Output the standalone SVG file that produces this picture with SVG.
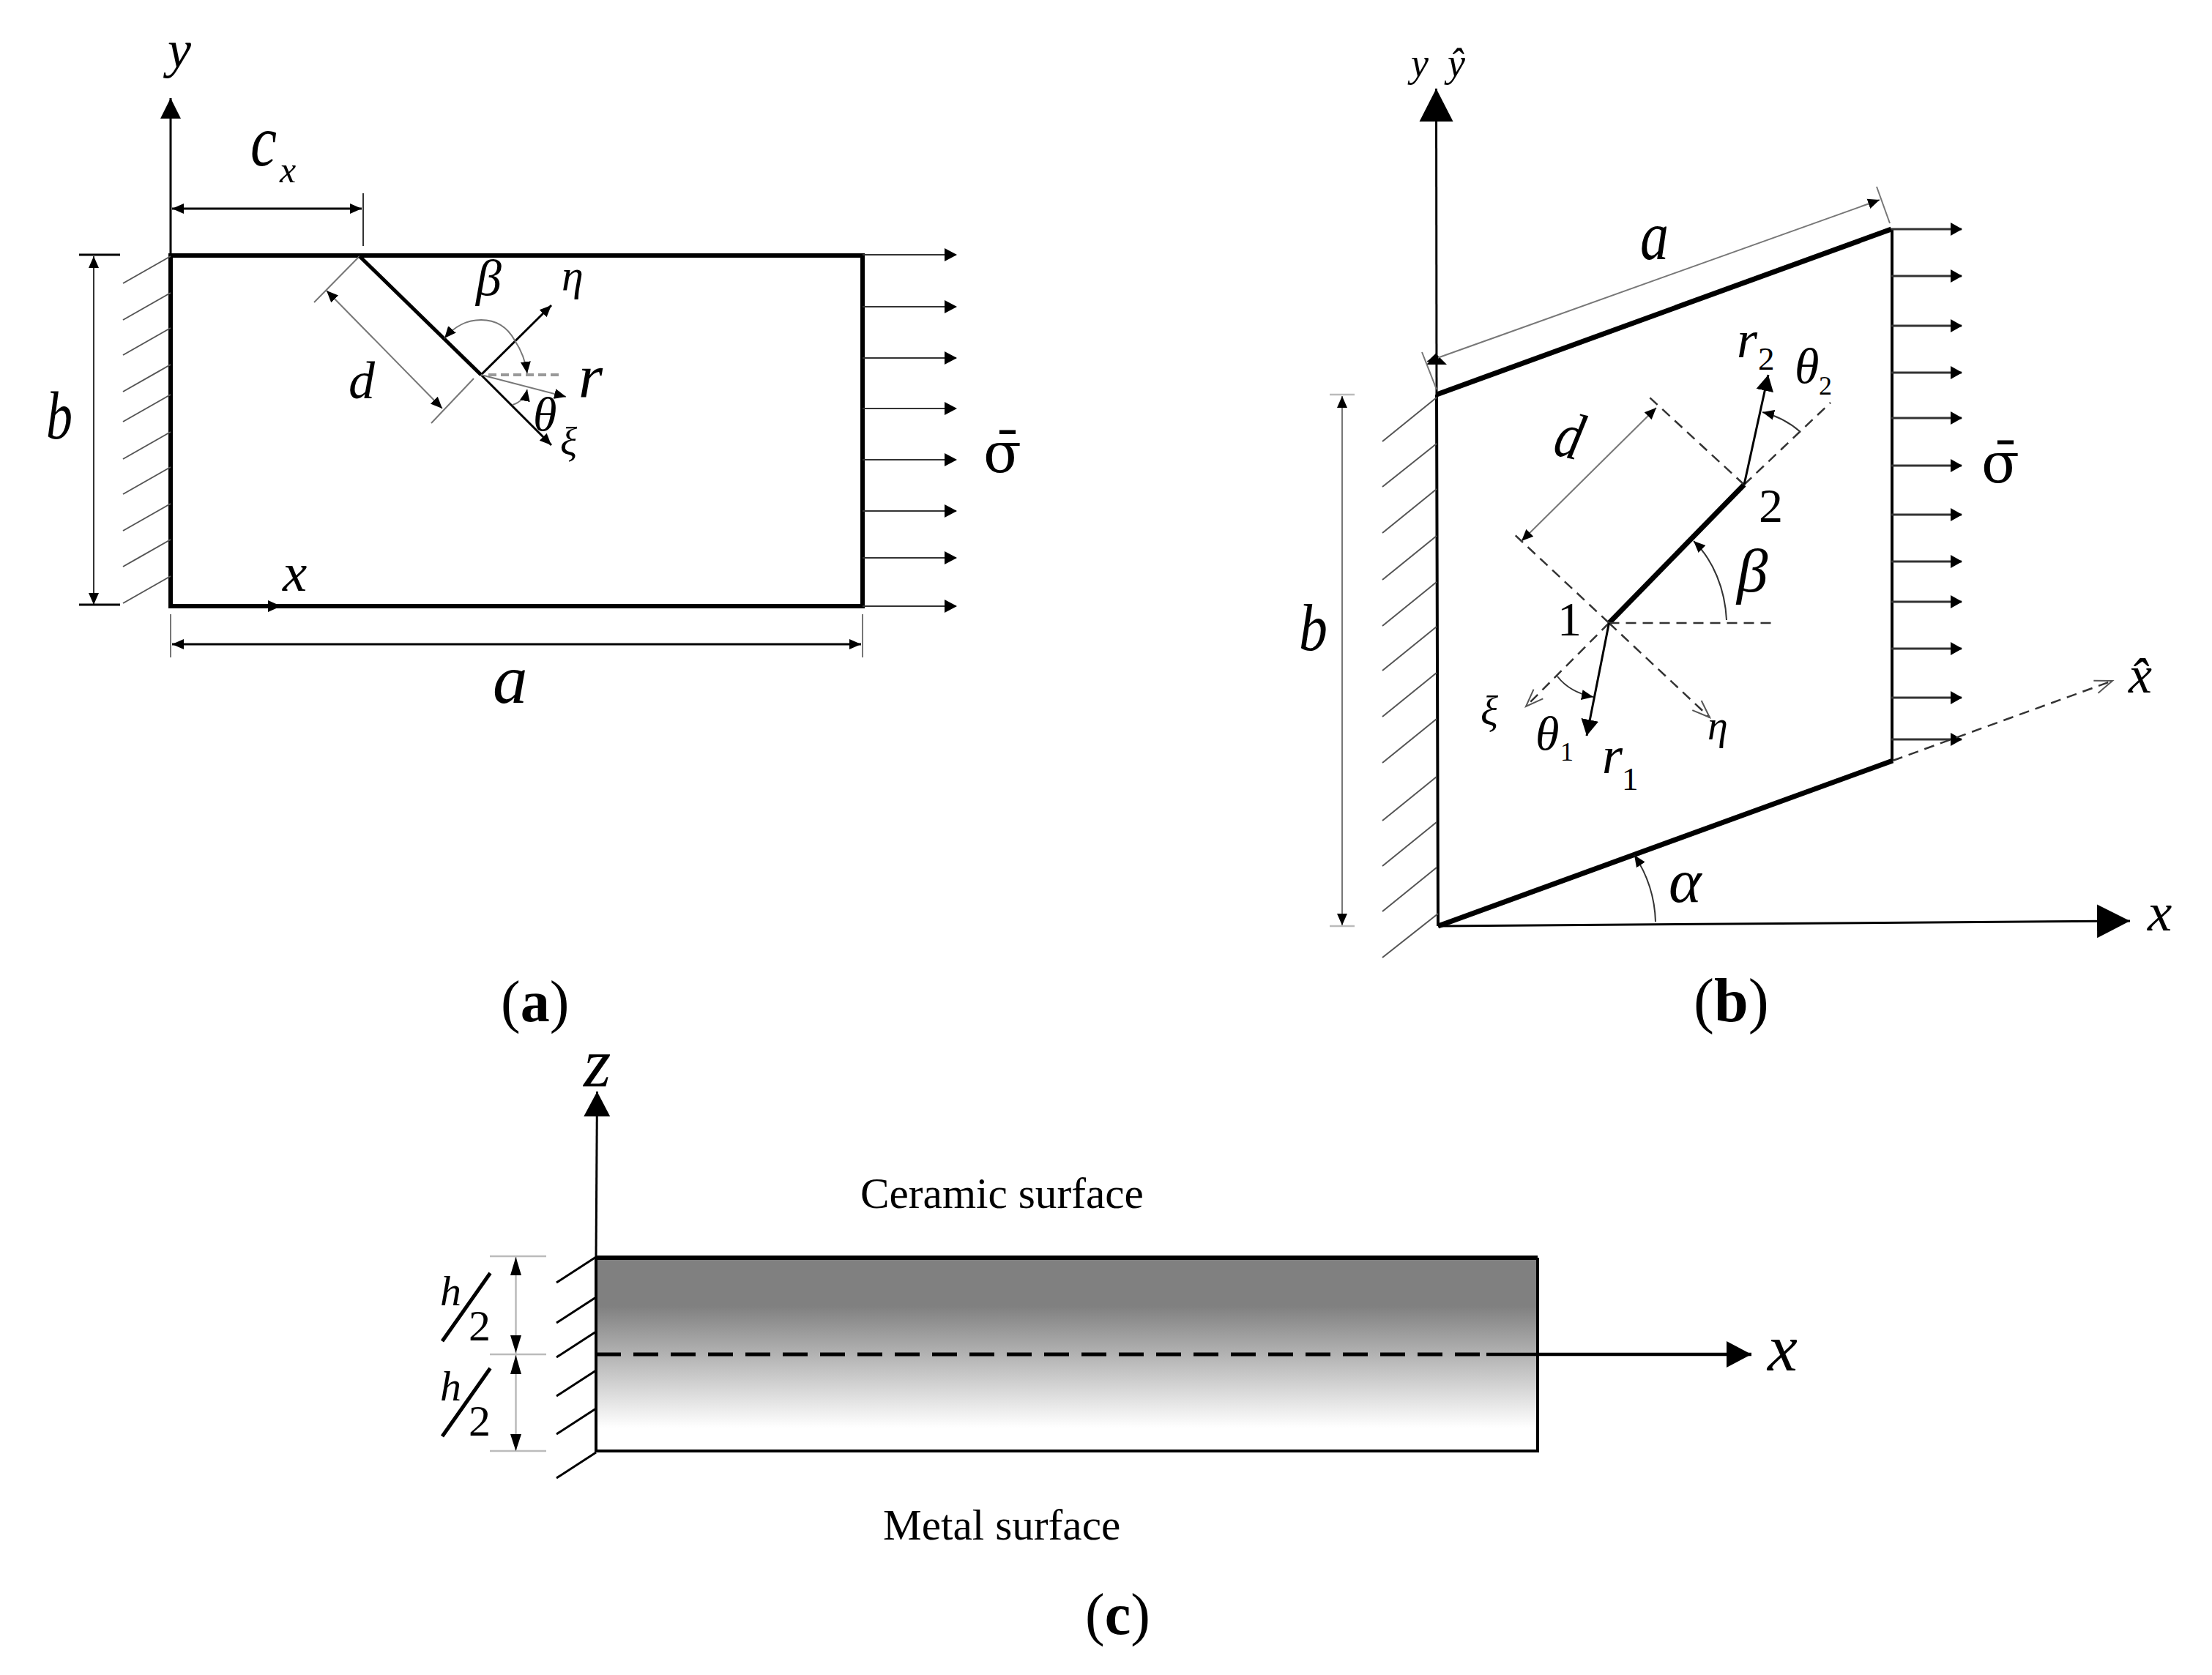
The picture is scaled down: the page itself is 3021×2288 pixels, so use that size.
<svg xmlns="http://www.w3.org/2000/svg" width="3021" height="2288" viewBox="0 0 3021 2288">
<style>
text{font-family:"Liberation Serif","Times New Roman",serif;fill:#000}
.i{font-style:italic}
.b{font-weight:bold}
.sg{font-family:"DejaVu Serif",serif}
.l{fill:none;stroke:#000;stroke-width:3}
.t{fill:none;stroke:#333;stroke-width:2}
.f{fill:none;stroke:#777;stroke-width:2}
.k{fill:none;stroke:#000;stroke-width:5}
.kk{fill:none;stroke:#000;stroke-width:7}
.h{fill:none;stroke:#555;stroke-width:2}
.d{fill:none;stroke:#333;stroke-width:2.5;stroke-dasharray:14 9}
.g{fill:none;stroke:#bbb;stroke-width:2.5}
.as{marker-end:url(#s)}
.ar{marker-end:url(#r)}
.ax{marker-end:url(#x);marker-start:url(#x)}
.ae{marker-end:url(#x)}
.ao{marker-end:url(#o)}
</style>
<defs>
<marker id="s" markerUnits="userSpaceOnUse" markerWidth="20" markerHeight="20" refX="18" refY="10" orient="auto"><path d="M0 2L18 10L0 18z"/></marker>
<marker id="r" markerUnits="userSpaceOnUse" markerWidth="24" markerHeight="26" refX="22" refY="13" orient="auto"><path d="M0 1L22 13L0 25z"/></marker>
<marker id="x" markerUnits="userSpaceOnUse" markerWidth="18" markerHeight="16" refX="16" refY="8" orient="auto-start-reverse"><path d="M0 1L16 8L0 15z"/></marker>
<marker id="o" markerUnits="userSpaceOnUse" markerWidth="30" markerHeight="30" refX="26" refY="15" orient="auto"><path d="M2 6L26 15L2 24" fill="none" stroke="#555" stroke-width="2"/></marker>
<marker id="m" markerUnits="userSpaceOnUse" markerWidth="30" markerHeight="32" refX="28" refY="16" orient="auto"><path d="M0 2L28 16L0 30z"/></marker>
<marker id="L" markerUnits="userSpaceOnUse" markerWidth="46" markerHeight="48" refX="45" refY="24" orient="auto"><path d="M0 1L45 24L0 47z"/></marker>
<marker id="c" markerUnits="userSpaceOnUse" markerWidth="36" markerHeight="38" refX="34" refY="19" orient="auto"><path d="M0 1L34 19L0 37z"/></marker>
<linearGradient id="fgm" x1="0" y1="0" x2="0" y2="1">
<stop offset="0" stop-color="#808080"/><stop offset=".25" stop-color="#808080"/><stop offset=".88" stop-color="#fff"/><stop offset="1" stop-color="#fff"/>
</linearGradient>
</defs>

<g id="panel-a">
<g id="a-plate"><rect x="233" y="349" width="945" height="479" fill="#fff" stroke="#000" stroke-width="6"/></g>
<g id="a-connectors">
<path class="l" d="M233 349V134" marker-end="url(#m)"/>
<path class="l ax" d="M235 285H494"/>
<path class="t" d="M496 264V336"/>
<path class="l as" d="M233 828H384"/>
<path class="l ax" d="M235 880H1176"/>
<path class="f" d="M233 839V898M1178 839V898"/>
<path class="t ax" d="M128 350V826"/>
<path class="l" d="M108 348H164M108 826H164"/>
<path class="h" d="M233 350L168 387M233 400L168 437M233 448L168 485M233 498L168 535M233 539L168 576M233 590L168 627M233 638L168 675M233 688L168 725M233 737L168 774M233 787L168 824"/>
<path class="t" d="M1178 348H1306M1178 419H1306M1178 489H1306M1178 558H1306M1178 628H1306M1178 698H1306M1178 762H1306M1178 828H1306"/>
<path d="M1290 339L1307 348L1290 357zM1290 410L1307 419L1290 428zM1290 480L1307 489L1290 498zM1290 549L1307 558L1290 567zM1290 619L1307 628L1290 637zM1290 689L1307 698L1290 707zM1290 753L1307 762L1290 771zM1290 819L1307 828L1290 837z"/>
<path class="f" d="M491 350L429 413M647 517L589 578"/>
<path class="f ax" d="M446 397L604 558"/>
<path class="k" d="M491 350L657 512"/>
<path class="l ae" d="M657 512L753 608"/>
<path class="l ae" d="M657 512L753 417"/>
<path fill="none" stroke="#999" stroke-width="4" stroke-dasharray="11 6" d="M667 512H763"/>
<path class="f ae" d="M657 512L773 542"/>
<path class="f ae" d="M703 465C692 445 675 437 657 437C635 437 620 447 607 462"/>
<path class="f ae" d="M703 465C713 480 718 495 720 510"/>
<path class="f ae" d="M700 553C710 550 718 542 720 532"/>
</g>
<g id="a-labels">
<text class="i" x="229" y="92" font-size="72">y</text>
<text class="i" x="342" y="226" font-size="100" textLength="36" lengthAdjust="spacingAndGlyphs">c</text>
<text class="i" x="382" y="249" font-size="50">x</text>
<text class="i" x="63" y="599" font-size="94" textLength="36" lengthAdjust="spacingAndGlyphs">b</text>
<text class="i" x="476" y="544" font-size="72">d</text>
<text class="i" x="650" y="403" font-size="70">β</text>
<text class="i" x="767" y="396" font-size="60">η</text>
<text class="i" x="790" y="543" font-size="85">r</text>
<text class="i" x="728" y="588" font-size="66">θ</text>
<text class="i" x="765" y="622" font-size="54">ξ</text>
<text class="i" x="386" y="807" font-size="75">x</text>
<text class="i" x="673" y="960" font-size="95">a</text>
<text class="sg" x="1343" y="645" font-size="76">σ̄</text>
<text x="684" y="1395" font-size="80">(<tspan class="b">a</tspan>)</text>
</g>
</g>

<g id="panel-b">
<g id="b-plate"><path fill="#fff" stroke="none" d="M1962 539L2583 313V1039L1964 1265z"/>
<path class="kk" d="M1962 539L2583 313"/><path class="kk" d="M1964 1265L2585 1039"/>
<path fill="none" stroke="#000" stroke-width="4" d="M1962 539L1964 1265M2584 313V1039"/></g>
<g id="b-connectors">
<path class="l" d="M1962 539L1961.5 121" marker-end="url(#L)"/>
<path class="l" d="M1964 1265L2909 1258" marker-end="url(#L)"/>
<path d="M1962 484L1976 498H1948z"/>
<path class="f ax" d="M1949 494L2567 273"/>
<path class="f" d="M2563 255L2581 305M1942 481L1962 532"/>
<path class="f ax" d="M1833 541V1264"/>
<path class="g" d="M1816 539H1850M1816 1265H1850"/>
<path class="h" d="M1962 543L1888 603M1962 606L1888 665M1962 668L1888 728M1962 732L1888 792M1962 795L1888 855M1962 856L1888 916M1962 919L1888 979M1962 982L1888 1042M1962 1061L1888 1121M1962 1123L1888 1183M1962 1185L1888 1245M1964 1248L1888 1308"/>
<path class="t" d="M2583 313H2679M2583 377H2679M2583 445H2679M2583 509H2679M2583 571H2679M2583 636H2679M2583 703H2679M2583 767H2679M2583 822H2679M2583 886H2679M2583 953H2679M2583 1010H2679" style="stroke-width:3"/>
<path d="M2664 304L2680 313L2664 322zM2664 368L2680 377L2664 386zM2664 436L2680 445L2664 454zM2664 500L2680 509L2664 518zM2664 562L2680 571L2664 580zM2664 627L2680 636L2664 645zM2664 694L2680 703L2664 712zM2664 758L2680 767L2664 776zM2664 813L2680 822L2664 831zM2664 877L2680 886L2664 895zM2664 944L2680 953L2664 962zM2664 1001L2680 1010L2664 1019z"/>
<path class="kk" d="M2197.5 851L2382 662"/>
<path class="d" d="M2382 662L2253 543M2382 662L2500 550M2197.5 851L2066 728"/>
<path class="d" d="M2197.5 851H2427"/>
<path class="d ao" d="M2197.5 851L2084 965"/>
<path class="d ao" d="M2197.5 851L2335 980"/>
<path class="d ao" d="M2585 1039L2885 930"/>
<path class="f ax" d="M2262 557L2078 739"/>
<path class="l ar" d="M2382 662L2415 512"/>
<path class="l ar" d="M2197.5 851L2167 1005"/>
<path class="t ae" d="M2459 590C2445 578 2428 568 2407 563"/>
<path class="t ae" d="M2127 924C2138 938 2155 948 2176 952"/>
<path class="t ae" d="M2358 847C2356 805 2340 765 2313 739"/>
<path class="t ae" d="M2261 1259C2260 1225 2250 1195 2232 1168"/>
</g>
<g id="b-labels">
<text class="i" x="1927" y="104" font-size="54">y</text>
<text class="i" x="1977" y="104" font-size="54">ŷ</text>
<text class="i" x="2240" y="354" font-size="95" textLength="39" lengthAdjust="spacingAndGlyphs">a</text>
<text class="i" x="2372" y="488" font-size="72">r</text>
<text x="2401" y="505" font-size="45">2</text>
<text class="i" x="2451" y="523" font-size="68">θ</text>
<text x="2484" y="539" font-size="36">2</text>
<text class="i" transform="translate(2119 620) rotate(14)" font-size="90" textLength="36" lengthAdjust="spacingAndGlyphs">d</text>
<text x="2402" y="713" font-size="66">2</text>
<text class="sg" x="2706" y="659" font-size="76">σ̄</text>
<text class="i" x="2372" y="808" font-size="85">β</text>
<text x="2127" y="868" font-size="66">1</text>
<text class="i" x="1774" y="888" font-size="90" textLength="39" lengthAdjust="spacingAndGlyphs">b</text>
<text class="i" x="2022" y="990" font-size="56">ξ</text>
<text class="i" x="2097" y="1024" font-size="66">θ</text>
<text x="2131" y="1039" font-size="36">1</text>
<text class="i" x="2188" y="1056" font-size="72">r</text>
<text x="2215" y="1079" font-size="45">1</text>
<text class="i" x="2332" y="1010" font-size="56">η</text>
<text class="i" x="2907" y="946" font-size="72">x̂</text>
<text class="i" x="2279" y="1232" font-size="85">α</text>
<text class="i" x="2933" y="1271" font-size="75">x</text>
<text x="2313" y="1395" font-size="84">(<tspan class="b">b</tspan>)</text>
</g>
</g>

<g id="panel-c">
<g id="c-plate"><rect x="814" y="1718" width="1286" height="264" fill="url(#fgm)"/>
<path class="k" d="M814 1718H2100" style="stroke-width:6"/>
<path fill="none" stroke="#000" stroke-width="4" d="M814 1718V1982H2100V1718"/></g>
<g id="c-connectors">
<path class="l" d="M814 1717L815.5 1491" marker-end="url(#c)"/>
<path class="k" d="M814 1850H2030" stroke-dasharray="34 17"/>
<path class="k" d="M2030 1850H2392" marker-end="url(#c)" style="stroke-width:4.5"/>
<path class="l" d="M814 1717L760 1752M814 1772L760 1807M814 1819L760 1854M814 1872L760 1907M814 1924L760 1959M814 1984L760 2019"/>
<path class="g" d="M669 1716H746M669 1850H746M669 1982H746M704.5 1717V1982"/>
<path d="M704.5 1717L712 1742H697zM704.5 1848L712 1824H697zM704.5 1851L712 1877H697zM704.5 1982L712 1959H697z"/>
<path class="k" d="M669.5 1739L604 1832M669.5 1869L604 1962"/>
</g>
<g id="c-labels">
<text class="i" x="797" y="1484" font-size="96">z</text>
<text x="1175" y="1650" font-size="59.3">Ceramic surface</text>
<text x="1206" y="2103" font-size="59.3">Metal surface</text>
<text class="i" x="601" y="1783" font-size="58">h</text>
<text x="640" y="1831" font-size="60">2</text>
<text class="i" x="601" y="1913" font-size="58">h</text>
<text x="640" y="1961" font-size="60">2</text>
<text class="i" x="2414" y="1872" font-size="92">x</text>
<text x="1482" y="2232" font-size="80">(<tspan class="b">c</tspan>)</text>
</g>
</g>
</svg>
